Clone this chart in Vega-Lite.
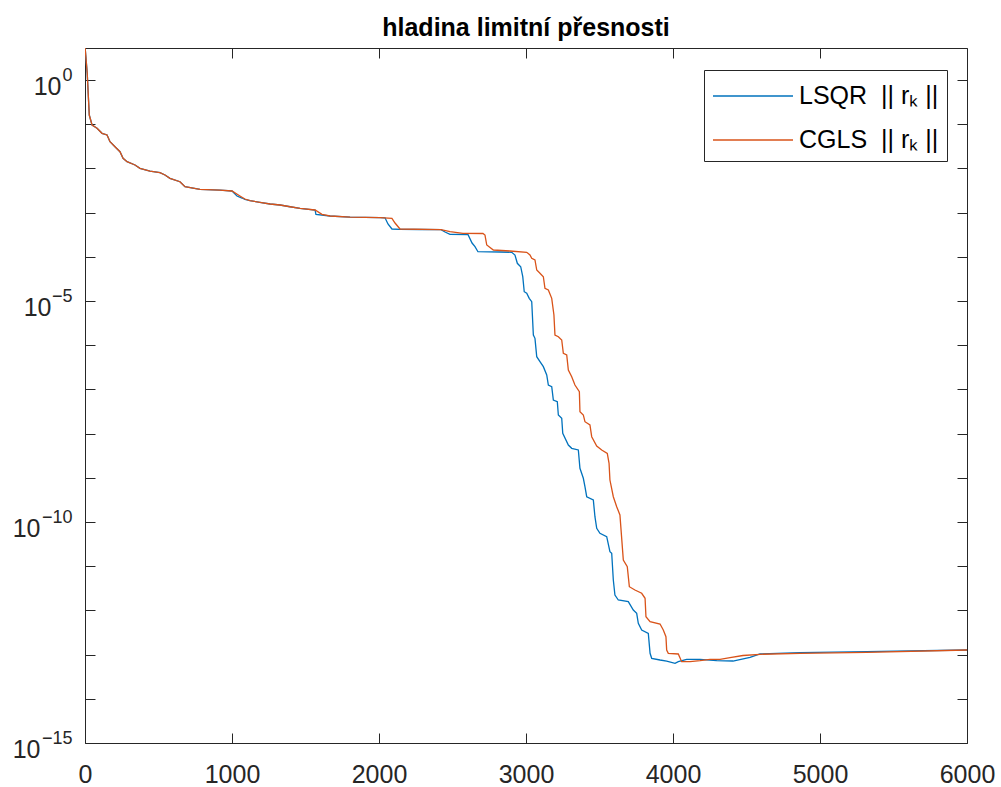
{
  "$schema": "https://vega.github.io/schema/vega-lite/v6.json",
  "autosize": "none",
  "width": 882,
  "height": 695,
  "padding": {"left": 85, "top": 48, "right": 34, "bottom": 44},
  "background": "white",
  "title": {"text": "hladina limitní přesnosti", "fontSize": 25, "fontWeight": "bold", "font": "Liberation Sans", "anchor": "middle", "baseline": "alphabetic", "offset": -13, "frame": "group", "color": "black"},
  "datasets": {
    "lsqr": [
      {"x":1,"y":5.3},{"x":15,"y":1.44},{"x":29,"y":0.1614},{"x":48,"y":0.0959},{"x":82,"y":0.0807},{"x":116,"y":0.0622},{"x":150,"y":0.057},{"x":170,"y":0.0402},{"x":204,"y":0.031},{"x":238,"y":0.02388},{"x":259,"y":0.01694},{"x":286,"y":0.01419},{"x":340,"y":0.01194},{"x":374,"y":0.01005},{"x":442,"y":0.00873},{"x":510,"y":0.008},{"x":544,"y":0.0071},{"x":578,"y":0.00597},{"x":646,"y":0.005},{"x":680,"y":0.00385},{"x":782,"y":0.003365},{"x":918,"y":0.003243},{"x":1000,"y":0.003083},
      {"x":1034,"y":0.002377},{"x":1068,"y":0.002138},{"x":1088,"y":0.002},{"x":1122,"y":0.001858},{"x":1190,"y":0.00171},{"x":1259,"y":0.001567},{"x":1327,"y":0.001486},{"x":1395,"y":0.001358},{"x":1463,"y":0.00125},{"x":1565,"y":0.001146},{"x":1571,"y":0.000916},{"x":1667,"y":0.000838},{"x":1803,"y":0.000794},{"x":2007,"y":0.000767},{"x":2041,"y":0.000762},{"x":2061,"y":0.000552},{"x":2088,"y":0.000426},{"x":2143,"y":0.000419},{"x":2279,"y":0.000415},{"x":2422,"y":0.00041},{"x":2449,"y":0.000364},{"x":2483,"y":0.000323},{"x":2605,"y":0.00032},{"x":2633,"y":0.000205},{"x":2653,"y":0.0001694},{"x":2673,"y":0.0001303},{"x":2823,"y":0.0001285},{"x":2903,"y":0.0001265},{"x":2925,"y":0.0001099},{"x":2941,"y":7.13e-5},{"x":2964,"y":5.97e-5},{"x":2978,"y":3.55e-5},{"x":2988,"y":1.622e-5},{"x":3005,"y":1.493e-5},{"x":3022,"y":1.151e-5},{"x":3039,"y":9.64e-6},{"x":3050,"y":1.702e-6},{"x":3061,"y":1.432e-6},{"x":3073,"y":5.5e-7},{"x":3095,"y":4.24e-7},{"x":3118,"y":3.27e-7},{"x":3141,"y":2.12e-7},{"x":3152,"y":1.259e-7},{"x":3175,"y":1.151e-7},{"x":3186,"y":5.75e-8},{"x":3213,"y":5.27e-8},{"x":3220,"y":2.64e-8},{"x":3243,"y":2.22e-8},{"x":3250,"y":1.016e-8},{"x":3288,"y":5.52e-9},{"x":3311,"y":4.65e-9},{"x":3356,"y":4.26e-9},{"x":3367,"y":1.641e-9},{"x":3390,"y":9.75e-10},{"x":3401,"y":6.3e-10},{"x":3413,"y":3.73e-10},{"x":3458,"y":3.15e-10},{"x":3469,"y":1.318e-10},{"x":3481,"y":7.19e-11},{"x":3503,"y":5.55e-11},{"x":3549,"y":4.65e-11},{"x":3571,"y":2.13e-11},{"x":3583,"y":1.959e-11},{"x":3594,"y":4.88e-12},{"x":3605,"y":2.23e-12},{"x":3628,"y":1.718e-12},{"x":3696,"y":1.574e-12},{"x":3730,"y":1.021e-12},{"x":3753,"y":8.59e-13},{"x":3764,"y":5.11e-13},{"x":3787,"y":3.61e-13},{"x":3832,"y":3.03e-13},{"x":3844,"y":1.069e-13},{"x":3855,"y":8.24e-14},{"x":3912,"y":7.55e-14},{"x":3957,"y":7.16e-14},{"x":4014,"y":6.35e-14},{"x":4036,"y":6.92e-14},{"x":4093,"y":7.83e-14},{"x":4184,"y":7.83e-14},{"x":4297,"y":7.28e-14},{"x":4408,"y":7.16e-14},{"x":4524,"y":8.69e-14},{"x":4592,"y":1.033e-13},{"x":4864,"y":1.104e-13},{"x":5318,"y":1.164e-13},{"x":6000,"y":1.271e-13}
    ],
    "cgls": [
      {"x":1,"y":5.3},{"x":15,"y":1.44},{"x":29,"y":0.1614},{"x":48,"y":0.0959},{"x":82,"y":0.0807},{"x":116,"y":0.0622},{"x":150,"y":0.057},{"x":170,"y":0.0402},{"x":204,"y":0.031},{"x":238,"y":0.02388},{"x":259,"y":0.01694},{"x":286,"y":0.01419},{"x":340,"y":0.01194},{"x":374,"y":0.01005},{"x":442,"y":0.00873},{"x":510,"y":0.008},{"x":544,"y":0.0071},{"x":578,"y":0.00597},{"x":646,"y":0.005},{"x":680,"y":0.00385},{"x":782,"y":0.003365},{"x":918,"y":0.003243},{"x":1000,"y":0.003083},
      {"x":1054,"y":0.002377},{"x":1088,"y":0.002032},{"x":1122,"y":0.001858},{"x":1190,"y":0.00171},{"x":1259,"y":0.001567},{"x":1327,"y":0.001486},{"x":1395,"y":0.001358},{"x":1463,"y":0.00125},{"x":1565,"y":0.001146},{"x":1612,"y":0.000916},{"x":1667,"y":0.000838},{"x":1803,"y":0.000794},{"x":2007,"y":0.000767},{"x":2088,"y":0.000743},{"x":2109,"y":0.000582},{"x":2143,"y":0.000426},{"x":2422,"y":0.00041},{"x":2483,"y":0.00037},{"x":2571,"y":0.00034},{"x":2707,"y":0.000337},{"x":2721,"y":0.000311},{"x":2733,"y":0.000185},{"x":2778,"y":0.0001426},{"x":2891,"y":0.0001352},{"x":3005,"y":0.0001265},{"x":3027,"y":0.0001099},{"x":3039,"y":9.25e-5},{"x":3061,"y":8.47e-5},{"x":3073,"y":5.02e-5},{"x":3095,"y":4.24e-5},{"x":3118,"y":3.55e-5},{"x":3129,"y":1.936e-5},{"x":3152,"y":1.774e-5},{"x":3175,"y":1.151e-5},{"x":3190,"y":4.82e-6},{"x":3197,"y":1.702e-6},{"x":3220,"y":1.557e-6},{"x":3243,"y":1.312e-6},{"x":3254,"y":6.56e-7},{"x":3277,"y":6.0e-7},{"x":3288,"y":2.75e-7},{"x":3311,"y":1.936e-7},{"x":3333,"y":1.259e-7},{"x":3363,"y":8.87e-8},{"x":3367,"y":3.13e-8},{"x":3390,"y":2.64e-8},{"x":3401,"y":1.858e-8},{"x":3435,"y":1.567e-8},{"x":3447,"y":8.51e-9},{"x":3481,"y":5.24e-9},{"x":3515,"y":4.26e-9},{"x":3553,"y":3.55e-9},{"x":3565,"y":2.13e-9},{"x":3571,"y":8.91e-10},{"x":3594,"y":3.73e-10},{"x":3617,"y":2.22e-10},{"x":3639,"y":1.439e-10},{"x":3662,"y":1.38e-11},{"x":3689,"y":9.75e-12},{"x":3703,"y":3.44e-12},{"x":3741,"y":2.9e-12},{"x":3787,"y":2.44e-12},{"x":3810,"y":1.879e-12},{"x":3816,"y":7.21e-13},{"x":3844,"y":5.55e-13},{"x":3912,"y":4.92e-13},{"x":3934,"y":3.61e-13},{"x":3952,"y":2.54e-13},{"x":3957,"y":1.271e-13},{"x":3968,"y":1.069e-13},{"x":4036,"y":1.033e-13},{"x":4059,"y":6.92e-14},{"x":4116,"y":6.92e-14},{"x":4184,"y":7.28e-14},{"x":4252,"y":7.83e-14},{"x":4320,"y":7.83e-14},{"x":4388,"y":8.51e-14},{"x":4476,"y":9.55e-14},{"x":4592,"y":1.016e-13},{"x":4864,"y":1.069e-13},{"x":5318,"y":1.127e-13},{"x":6000,"y":1.271e-13}
    ]
  },
  "layer": [
    {
      "data": {"name": "lsqr"},
      "mark": {"type": "line", "strokeWidth": 1.3, "clip": true, "interpolate": "linear"},
      "encoding": {
        "x": {"field": "x", "type": "quantitative", "scale": {"domain": [0, 6000], "nice": false, "zero": false},
              "axis": {"orient": "bottom", "values": [0,1000,2000,3000,4000,5000,6000], "title": null, "grid": false, "tickSize": -10, "labelPadding": 29, "labelFontSize": 25, "labelFont": "Liberation Sans", "labelColor": "#262626", "domainColor": "#262626", "tickColor": "#262626", "labelFlush": false, "labelOverlap": false, "format": "d"}},
        "y": {"field": "y", "type": "quantitative", "scale": {"type": "log", "domain": [1e-15, 5.3], "nice": false},
              "axis": {"orient": "left", "values": [1e-15,1e-14,1e-13,1e-12,1e-11,1e-10,1e-9,1e-8,1e-7,1e-6,1e-5,1e-4,1e-3,1e-2,1e-1,1], "title": null, "grid": false, "tickSize": -10, "labels": false, "domainColor": "#262626", "tickColor": "#262626"}},
        "color": {"datum": "LSQR", "type": "nominal",
                  "scale": {"domain": ["LSQR", "CGLS"], "range": ["#0072BD", "#D95319"]},
                  "legend": {"title": null, "orient": "none", "legendX": 619, "legendY": 22, "symbolType": "M-1,0H3.706", "symbolSize": 1156, "symbolStrokeWidth": 1.3, "labelFontSize": 25, "labelFont": "Liberation Sans", "labelColor": "black", "strokeColor": "#262626", "fillColor": "white", "padding": 8, "rowPadding": 13, "labelOffset": 51,
                             "labelExpr": "datum.label == 'LSQR' ? 'LSQR\u00a0\u00a0|| r\u2096 ||' : 'CGLS\u00a0\u00a0|| r\u2096 ||'"}}
      }
    },
    {
      "data": {"name": "cgls"},
      "mark": {"type": "line", "strokeWidth": 1.3, "clip": true, "interpolate": "linear"},
      "encoding": {
        "x": {"field": "x", "type": "quantitative",
              "axis": {"orient": "top", "values": [0,1000,2000,3000,4000,5000,6000], "title": null, "grid": false, "tickSize": -10, "labels": false, "domainColor": "#262626", "tickColor": "#262626"}},
        "y": {"field": "y", "type": "quantitative",
              "axis": {"orient": "right", "values": [1e-15,1e-14,1e-13,1e-12,1e-11,1e-10,1e-9,1e-8,1e-7,1e-6,1e-5,1e-4,1e-3,1e-2,1e-1,1], "title": null, "grid": false, "tickSize": -10, "labels": false, "domainColor": "#262626", "tickColor": "#262626"}},
        "color": {"datum": "CGLS", "type": "nominal"}
      }
    },
    {
      "data": {"name": "lsqr"},
      "mark": {"type": "line", "opacity": 0, "clip": true},
      "encoding": {
        "x": {"field": "x", "type": "quantitative", "axis": null},
        "y": {"field": "y", "type": "quantitative",
              "axis": {"orient": "left", "values": [1e-15,1e-10,1e-5,1], "title": null, "grid": false, "ticks": false, "domain": false, "labelFontSize": 18, "labelFont": "Liberation Sans", "labelColor": "#262626", "labelAlign": "right", "labelBaseline": "middle", "labelPadding": 13, "labelOffset": -5, "labelOverlap": false, "labelFlush": false,
                       "labelExpr": "round(log(datum.value)/LN10) == 0 ? '0' : round(log(datum.value)/LN10) == -5 ? '\u22125' : round(log(datum.value)/LN10) == -10 ? '\u221210' : '\u221215'"}}
      }
    },
    {
      "data": {"name": "lsqr"},
      "mark": {"type": "line", "opacity": 0, "clip": true},
      "encoding": {
        "x": {"field": "x", "type": "quantitative", "axis": null},
        "y": {"field": "y", "type": "quantitative",
              "axis": {"orient": "left", "values": [1], "title": null, "grid": false, "ticks": false, "domain": false, "labelFontSize": 25, "labelFont": "Liberation Sans", "labelColor": "#262626", "labelAlign": "right", "labelBaseline": "middle", "labelPadding": 24, "labelOffset": 6, "labelOverlap": false, "labelFlush": false,
                       "labelExpr": "'10'"}}
      }
    },
    {
      "data": {"name": "lsqr"},
      "mark": {"type": "line", "opacity": 0, "clip": true},
      "encoding": {
        "x": {"field": "x", "type": "quantitative", "axis": null},
        "y": {"field": "y", "type": "quantitative",
              "axis": {"orient": "left", "values": [1e-5], "title": null, "grid": false, "ticks": false, "domain": false, "labelFontSize": 25, "labelFont": "Liberation Sans", "labelColor": "#262626", "labelAlign": "right", "labelBaseline": "middle", "labelPadding": 34, "labelOffset": 6, "labelOverlap": false, "labelFlush": false,
                       "labelExpr": "'10'"}}
      }
    },
    {
      "data": {"name": "lsqr"},
      "mark": {"type": "line", "opacity": 0, "clip": true},
      "encoding": {
        "x": {"field": "x", "type": "quantitative", "axis": null},
        "y": {"field": "y", "type": "quantitative",
              "axis": {"orient": "left", "values": [1e-15, 1e-10], "title": null, "grid": false, "ticks": false, "domain": false, "labelFontSize": 25, "labelFont": "Liberation Sans", "labelColor": "#262626", "labelAlign": "right", "labelBaseline": "middle", "labelPadding": 45, "labelOffset": 6, "labelOverlap": false, "labelFlush": false,
                       "labelExpr": "'10'"}}
      }
    }
  ],
  "resolve": {"axis": {"x": "independent", "y": "independent"}},
  "config": {"view": {"stroke": null}, "font": "Liberation Sans"}
}
